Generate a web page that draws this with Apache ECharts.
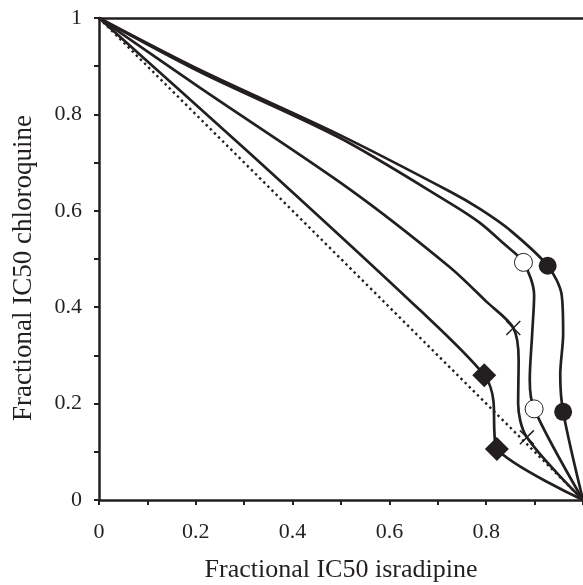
<!DOCTYPE html>
<html>
<head>
<meta charset="utf-8">
<script src="https://cdn.jsdelivr.net/npm/echarts@6/dist/echarts.min.js"></script>
<style>
  html, body { margin: 0; padding: 0; background: #fff; }
  #chart { width: 583px; height: 585px; }
</style>
</head>
<body>
<div id="chart"></div>
<script>
// additivity line
var additive = [[0, 1], [1, 0]];

// isobole curves (fractional IC50 isradipine, fractional IC50 chloroquine)
var curveFilled = [[0, 1], [0.209, 0.892], [0.498, 0.757], [0.725, 0.640], [0.787, 0.604],
  [0.849, 0.560], [0.927, 0.486], [0.956, 0.425], [0.959, 0.345], [0.953, 0.26], [0.959, 0.183], [1, 0]];
var curveOpen = [[0, 1], [0.209, 0.888], [0.498, 0.751], [0.725, 0.616], [0.787, 0.575],
  [0.835, 0.533], [0.877, 0.493], [0.899, 0.425], [0.895, 0.345], [0.890, 0.25], [0.899, 0.189], [1, 0]];
var curveCross = [[0, 1], [0.209, 0.855], [0.519, 0.644], [0.725, 0.483], [0.801, 0.411],
  [0.856, 0.357], [0.867, 0.29], [0.866, 0.20], [0.884, 0.130], [1, 0]];
var curveDiamond = [[0, 1], [0.312, 0.719], [0.663, 0.394], [0.796, 0.259], [0.815, 0.205],
  [0.817, 0.14], [0.822, 0.106], [1, 0]];

// marked points
var markFilled = [[0.927, 0.486], [0.959, 0.183]];
var markOpen = [[0.877, 0.493], [0.899, 0.189]];
var markCross = [[0.856, 0.357], [0.884, 0.130]];
var markDiamond = [[0.796, 0.259], [0.822, 0.106]];

var ink = '#231f20';
var serif = 'Liberation Serif';

var myChart = echarts.init(document.getElementById('chart'));

function curve(data) {
  return {
    type: 'line',
    data: data,
    smooth: 0.3,
    symbol: 'none',
    lineStyle: { color: ink, width: 2.7 },
    z: 3
  };
}

function marks(data, symbol, size, style) {
  style.opacity = 1;
  return {
    type: 'scatter',
    data: data,
    symbol: symbol,
    symbolSize: size,
    itemStyle: style,
    z: 5
  };
}

var option = {
  animation: false,
  grid: { left: 99, top: 18, right: 0, bottom: 85, outerBoundsMode: 'none' },
  xAxis: [{
    type: 'value',
    min: 0,
    max: 1,
    interval: 0.2,
    name: 'Fractional IC50 isradipine',
    nameLocation: 'middle',
    nameGap: 57,
    nameTextStyle: { fontFamily: serif, fontSize: 26, color: ink },
    axisLine: { lineStyle: { color: ink, width: 2.5 } },
    axisTick: { length: 5, lineStyle: { color: ink, width: 2 } },
    minorTick: { show: true, splitNumber: 2, length: 5, lineStyle: { color: ink, width: 2 } },
    splitLine: { show: false },
    axisLabel: { showMaxLabel: false, margin: 21, fontFamily: serif, fontSize: 22, color: ink }
  }, {
    type: 'value',
    position: 'top',
    min: 0,
    max: 1,
    axisLine: { show: true, lineStyle: { color: ink, width: 2.5 } },
    axisTick: { show: false },
    axisLabel: { show: false },
    splitLine: { show: false }
  }],
  yAxis: {
    type: 'value',
    min: 0,
    max: 1,
    interval: 0.2,
    name: 'Fractional IC50 chloroquine',
    nameLocation: 'middle',
    nameGap: 62,
    nameTextStyle: { fontFamily: serif, fontSize: 27, color: ink, padding: [0, 18, 0, 0] },
    axisLine: { lineStyle: { color: ink, width: 2.5 } },
    axisTick: { length: 5, lineStyle: { color: ink, width: 2 } },
    minorTick: { show: true, splitNumber: 2, length: 5, lineStyle: { color: ink, width: 2 } },
    splitLine: { show: false },
    axisLabel: { margin: 17, fontFamily: serif, fontSize: 22, color: ink }
  },
  series: [
    {
      type: 'line',
      data: additive,
      symbol: 'none',
      lineStyle: { color: ink, width: 2.4, type: [2.4, 3.4] },
      z: 2
    },
    curve(curveFilled),
    curve(curveOpen),
    curve(curveCross),
    curve(curveDiamond),
    marks(markFilled, 'circle', 18, { color: ink }),
    marks(markOpen, 'circle', 18, { color: '#fff', borderColor: ink, borderWidth: 1 }),
    marks(markCross, 'path://M0,0.7L0.7,0L10,9.3L9.3,10ZM9.3,0L10,0.7L0.7,10L0,9.3Z', 15, { color: ink }),
    marks(markDiamond, 'diamond', [24, 24], { color: ink })
  ]
};

myChart.setOption(option);
</script>
</body>
</html>
